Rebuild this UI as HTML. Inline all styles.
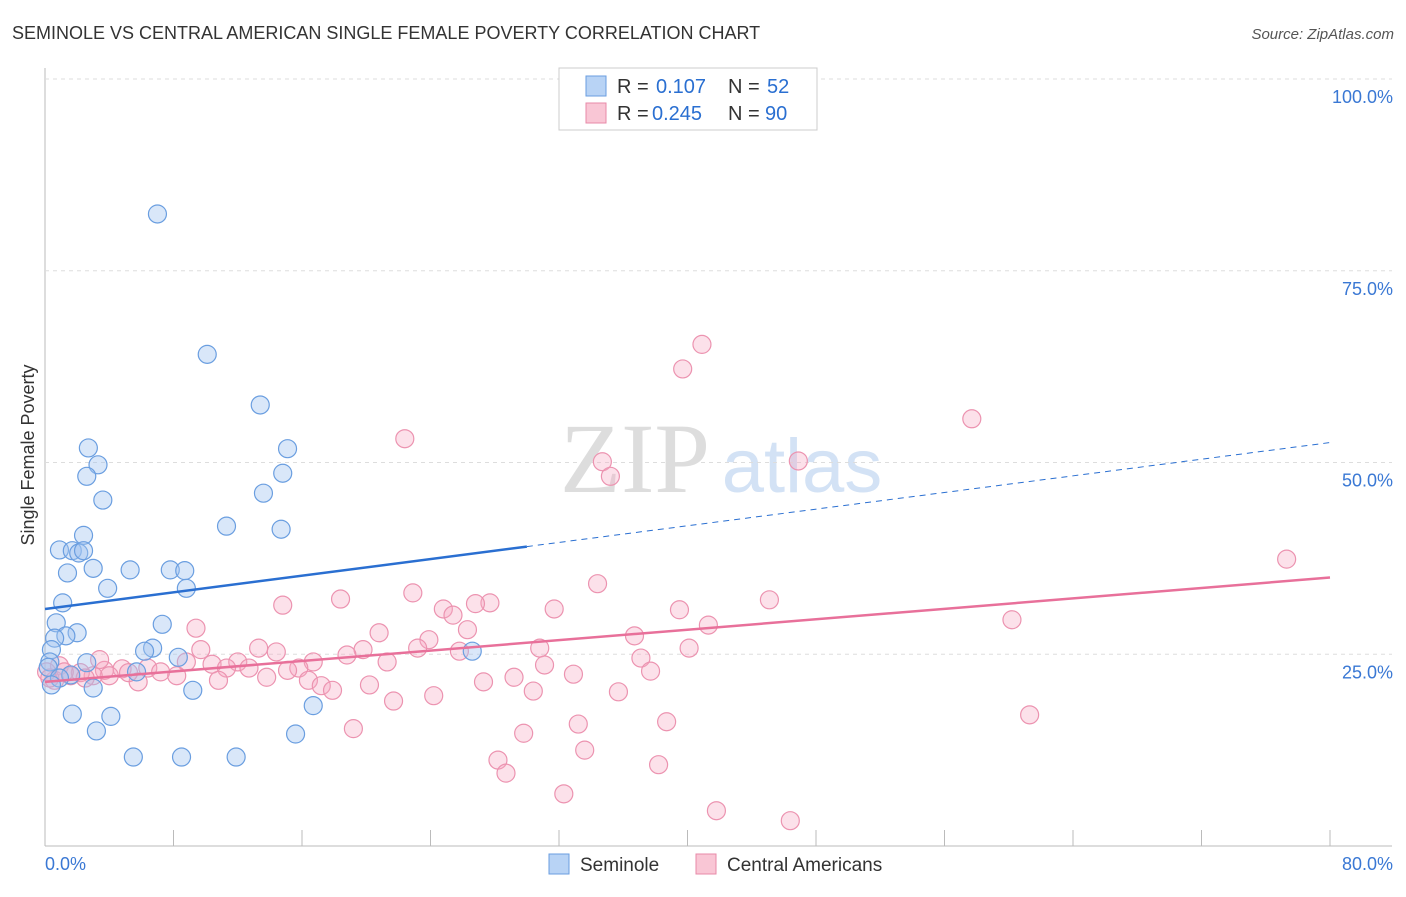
<!DOCTYPE html>
<html><head><meta charset="utf-8"><style>
body{margin:0;background:#fff;font-family:"Liberation Sans",sans-serif}
</style></head><body>
<svg width="1406" height="892" id="c">
<text x="12" y="39" font-size="18" fill="#333">SEMINOLE VS CENTRAL AMERICAN SINGLE FEMALE POVERTY CORRELATION CHART</text>
<text x="1394" y="39" font-size="15" fill="#555" font-style="italic" text-anchor="end">Source: ZipAtlas.com</text>
<text x="635" y="492" font-size="100" fill="#ddd" font-family="Liberation Serif" text-anchor="middle">ZIP</text>
<text x="802" y="492" font-size="76" fill="#d3e2f5" text-anchor="middle">atlas</text>
<text transform="translate(34,455) rotate(-90)" font-size="18" fill="#333" text-anchor="middle">Single Female Poverty</text>
<g id="grid"></g><g id="pts"></g><g id="lines"></g>
<g>
<rect x="559" y="68" width="258" height="62" fill="#fff" stroke="#ccc"/>
<rect x="586" y="76" width="20" height="20" fill="#b8d3f5" stroke="#6a9ee0"/>
<rect x="586" y="103" width="20" height="20" fill="#f9c6d5" stroke="#e88aa8"/>
<text y="93" font-size="20" fill="#333"><tspan x="617">R =</tspan><tspan x="656" fill="#2a6fd1">0.107</tspan><tspan x="728">N =</tspan><tspan x="767" fill="#2a6fd1">52</tspan></text>
<text y="120" font-size="20" fill="#333"><tspan x="617">R =</tspan><tspan x="652" fill="#2a6fd1">0.245</tspan><tspan x="728">N =</tspan><tspan x="765" fill="#2a6fd1">90</tspan></text>
</g>
<g>
<rect x="549" y="854" width="20" height="20" fill="#b8d3f5" stroke="#6a9ee0"/>
<text x="580" y="871" font-size="19" fill="#333">Seminole</text>
<rect x="696" y="854" width="20" height="20" fill="#f9c6d5" stroke="#e88aa8"/>
<text x="727" y="871" font-size="19" fill="#333">Central Americans</text>
</g>
</svg>
<script>
const xTicks=[0,8,16,24,32,40,48,56,64,72,80];
const yTicks=[25,50,75,100];
const semX=[7.0,10.1,13.4,2.7,15.1,3.3,2.6,14.8,13.6,3.6,11.3,14.7,2.4,0.9,1.7,2.1,2.4,3.0,1.4,5.3,7.8,8.7,3.9,8.8,1.1,0.7,7.3,2.0,1.3,0.6,6.7,6.2,0.4,8.3,0.3,2.6,0.2,5.7,1.6,3.0,9.2,1.7,4.1,3.2,16.7,15.6,5.5,8.5,11.9,26.6,0.9,0.4];
const semY=[82.4,64.1,57.5,51.9,51.8,49.7,48.2,48.6,46.0,45.1,41.7,41.3,40.5,38.6,38.5,38.2,38.5,36.2,35.6,36.0,36.0,35.9,33.6,33.6,31.7,29.1,28.9,27.8,27.4,27.1,25.8,25.4,25.6,24.6,24.0,23.9,23.3,22.7,22.3,20.6,20.3,17.2,16.9,15.0,18.3,14.6,11.6,11.6,11.6,25.4,21.9,21.0];
const caX=[40.9,39.7,57.7,22.4,34.7,35.2,46.9,77.3,34.4,22.9,18.4,27.7,26.8,14.8,24.8,31.7,45.1,39.5,25.4,60.2,41.3,9.4,20.8,26.3,36.7,23.9,23.2,30.8,13.3,9.7,14.4,19.8,18.8,25.8,40.1,37.1,16.7,31.1,8.8,12.0,10.4,11.3,12.7,21.3,15.8,37.7,15.1,32.9,29.2,4.8,3.7,6.4,7.2,8.2,5.8,4.0,3.0,0.9,1.6,2.2,0.6,0.1,10.8,13.8,16.4,17.2,17.9,20.2,27.3,30.4,35.7,24.2,21.7,33.2,38.7,19.2,29.8,61.3,33.6,28.2,28.7,38.2,32.3,41.8,46.4,0.3,1.2,3.4,5.2,2.5];
const caY=[65.4,62.2,55.7,53.1,50.1,48.2,50.2,37.4,34.2,33.0,32.2,31.7,31.6,31.4,30.9,30.9,32.1,30.8,30.1,29.5,28.8,28.4,27.8,28.2,27.4,26.9,25.8,25.8,25.8,25.6,25.3,25.6,24.9,25.4,25.8,24.5,24.0,23.6,24.0,24.0,23.7,23.2,23.2,24.0,23.2,22.8,22.9,22.4,22.0,23.1,22.9,23.2,22.7,22.2,21.4,22.2,22.2,23.5,22.2,22.6,21.6,22.7,21.6,22.0,21.6,20.9,20.3,21.0,21.4,20.2,20.1,19.6,18.9,15.9,16.2,15.3,14.7,17.1,12.5,11.2,9.5,10.6,6.8,4.6,3.3,21.9,22.7,24.3,22.6,21.9];
const semTrend=[30.9,52.6], caTrend=[21.4,35.0];
const X=v=>45+v/80*1285, Y=v=>846-v/100*767;
const NS='http://www.w3.org/2000/svg';
function mk(t,a,p){const e=document.createElementNS(NS,t);for(const k in a)e.setAttribute(k,a[k]);p.appendChild(e);return e;}
const g=document.getElementById('grid');
let ax=mk('line',{x1:45,y1:68,x2:45,y2:846,stroke:'#bbb'},g);


let bx=mk('line',{x1:45,y1:846,x2:1392,y2:846,stroke:'#bbb'},g);


yTicks.forEach(t=>{
 const l=mk('line',{x1:45,x2:1392,y1:Y(t),y2:Y(t),stroke:'#ddd','stroke-dasharray':'4,4'},g);
 
 
 const tx=mk('text',{x:1393,y:Y(t)+24,'font-size':18,fill:'#3a78d4','text-anchor':'end'},g);tx.textContent=t.toFixed(1)+'%';
 
 
});
xTicks.forEach(t=>{
 const l=mk('line',{x1:X(t),x2:X(t),y1:830,y2:846,stroke:'#bbb'},g);
 
 
});
[[0,'start',45],[80,'end',1393]].forEach(([v,a,x])=>{
 const tx=mk('text',{x:x,y:870,'font-size':18,fill:'#3a78d4','text-anchor':a},g);tx.textContent=v.toFixed(1)+'%';
 
 
});
const p=document.getElementById('pts');
caX.forEach((v,i)=>{const c=mk('circle',{cx:X(v),cy:Y(caY[i]),r:9,fill:'rgba(246,170,195,0.35)',stroke:'#ec93b0','stroke-width':1.2},p);
 
 });
semX.forEach((v,i)=>{const c=mk('circle',{cx:X(v),cy:Y(semY[i]),r:9,fill:'rgba(160,196,240,0.4)',stroke:'#6a9ee0','stroke-width':1.2},p);
 
 });
const L=document.getElementById('lines');
const sy=x=>semTrend[0]+(semTrend[1]-semTrend[0])*x/80;
let s1=mk('line',{x1:X(0),y1:Y(sy(0)),x2:X(30),y2:Y(sy(30)),stroke:'#2a6fd1','stroke-width':2.5},L);


let s2=mk('line',{x1:X(30),y1:Y(sy(30)),x2:X(80),y2:Y(sy(80)),stroke:'#2a6fd1','stroke-width':1,'stroke-dasharray':'6,5'},L);


let c1=mk('line',{x1:X(0),y1:Y(caTrend[0]),x2:X(80),y2:Y(caTrend[1]),stroke:'#e8709a','stroke-width':2.5},L);


</script>
</body></html>
